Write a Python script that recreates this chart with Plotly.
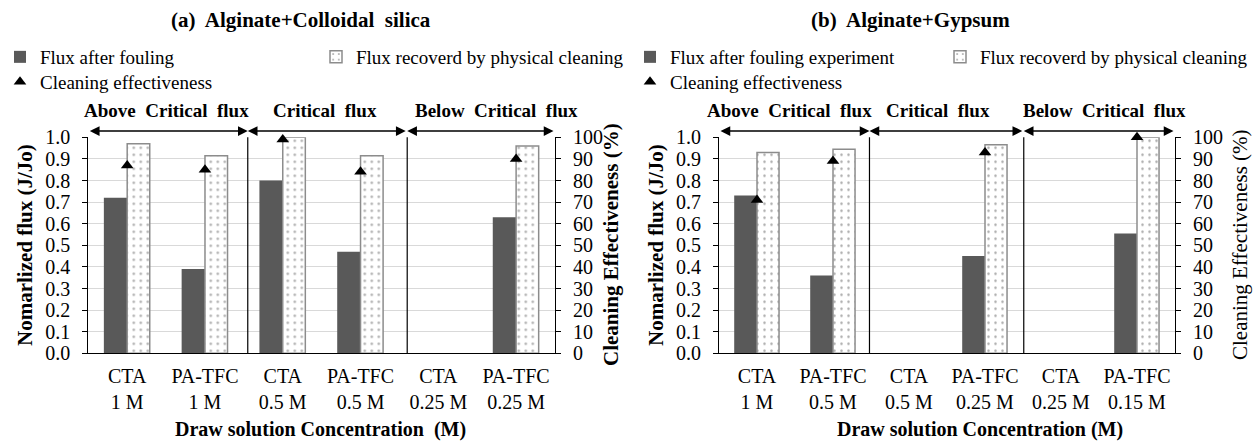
import plotly.graph_objects as go

# ---------------- data ----------------
categories_a = ["CTA<br>1 M", "PA-TFC<br>1 M", "CTA<br>0.5 M", "PA-TFC<br>0.5 M", "CTA<br>0.25 M", "PA-TFC<br>0.25 M"]
flux_fouled_a = [0.72, 0.39, 0.80, 0.47, None, 0.63]
flux_recovered_a = [0.97, 0.915, 1.00, 0.915, None, 0.96]
cleaning_eff_a = [87, 85, 99, 84, None, 90]

categories_b = ["CTA<br>1 M", "PA-TFC<br>0.5 M", "CTA<br>0.5 M", "PA-TFC<br>0.25 M", "CTA<br>0.25 M", "PA-TFC<br>0.15 M"]
flux_fouled_b = [0.73, 0.36, None, 0.45, None, 0.555]
flux_recovered_b = [0.93, 0.945, None, 0.965, None, 1.00]
cleaning_eff_b = [71, 89, None, 93, None, 100]

region_labels = ["Above\u00a0 Critical\u00a0 flux", "Critical\u00a0 flux", "Below\u00a0 Critical\u00a0 flux"]
y_ticks_left = [i / 10 for i in range(11)]
y_ticks_right = list(range(0, 101, 10))

# ---------------- layout helpers ----------------
W, H = 1257, 442
FONT = "Liberation Serif"


def px(p):
    return p / W


def py(p):
    return (H - p) / H


Y_DOM = [py(353.3), py(137.3)]
XA_DOM = [px(88.3), px(555)]
XB_DOM = [px(719), px(1175)]

DARK = "#595959"
fig = go.Figure()


def add_panel(cats, fouled, recovered, eff, xa, ya, ya2, lg, fouled_name):
    fig.add_trace(go.Bar(
        x=cats, y=fouled, name=fouled_name, xaxis=xa, yaxis=ya,
        width=0.3, offset=-0.3, cliponaxis=False,
        marker=dict(color=DARK, line=dict(width=0)), legend=lg[0]))
    fig.add_trace(go.Bar(
        x=cats, y=recovered, name="Flux recoverd by physical cleaning", xaxis=xa, yaxis=ya,
        width=0.29, offset=0.0, cliponaxis=False,
        marker=dict(color="white", line=dict(color="#8c8c8c", width=1.5),
                    pattern=dict(shape=".", fgcolor="#555555", bgcolor="white", size=7, solidity=0.1)),
        legend=lg[1]))
    fig.add_trace(go.Scatter(
        x=cats, y=eff, name="Cleaning effectiveness", xaxis=xa, yaxis=ya2,
        mode="markers", cliponaxis=False,
        marker=dict(symbol="triangle-up", size=11, color="black"), legend=lg[2]))


add_panel(categories_a, flux_fouled_a, flux_recovered_a, cleaning_eff_a,
          "x", "y", "y2", ["legend", "legend2", "legend3"], "Flux after fouling")
add_panel(categories_b, flux_fouled_b, flux_recovered_b, cleaning_eff_b,
          "x2", "y3", "y4", ["legend4", "legend5", "legend6"], "Flux after fouling experiment")

tickfont = dict(family=FONT, size=20, color="black")


def xax(dom, anchor):
    return dict(domain=dom, anchor=anchor, type="category", range=[-0.5, 5.5],
                showline=True, linecolor="black", linewidth=1, ticks="", showgrid=False,
                tickfont=tickfont, ticklabelstandoff=5, fixedrange=True, automargin=False)


def yax_left(anchor):
    return dict(domain=Y_DOM, anchor=anchor, range=[0, 1], tickvals=y_ticks_left, tickformat=".1f",
                ticks="outside", ticklen=5, tickcolor="black", showline=True, linecolor="black",
                gridcolor="#d9d9d9", gridwidth=1, zeroline=False, tickfont=tickfont,
                ticklabelstandoff=8, automargin=False)


def yax_right(anchor, over):
    return dict(overlaying=over, side="right", anchor=anchor, range=[0, 100], tickvals=y_ticks_right,
                ticks="outside", ticklen=5, tickcolor="black", showline=True, linecolor="black",
                showgrid=False, zeroline=False, tickfont=tickfont, ticklabelstandoff=8,
                automargin=False)


legfont = dict(family=FONT, size=19, color="black")


def leg(xp, yp):
    return dict(x=px(xp), y=py(yp), xanchor="left", yanchor="middle", orientation="h",
                font=legfont, bgcolor="rgba(0,0,0,0)", itemwidth=30, visible=True)


ARROW_PX = 131
sep_a = [1.55, 3.6]
sep_b = [1.48, 3.51]
ARROW_Y_DATA = (353.3 - ARROW_PX) / 216.0
shapes = []
annotations = []


def panel_decor(xref, yref, seps, label_x):
    # each arrow: anchor (head) inside the axis range, tail at the other end
    pairs = [(seps[0], -0.5), (seps[0], seps[1]), (seps[1], 5.5)]
    for s in seps:
        shapes.append(dict(type="line", xref=xref, yref=yref, x0=s, x1=s, y0=0, y1=ARROW_Y_DATA,
                           line=dict(color="black", width=1.2)))
    for i, (head, tail) in enumerate(pairs):
        annotations.append(dict(xref=xref, yref="paper", axref=xref, ayref="pixel",
                                x=head, y=py(ARROW_PX), ax=tail, ay=0, text="",
                                showarrow=True, arrowside="end+start", arrowhead=2,
                                arrowsize=1.3, arrowwidth=1.5, arrowcolor="black",
                                standoff=0, startstandoff=0))
        annotations.append(dict(xref=xref, yref="paper", x=label_x[i], y=py(110), text=region_labels[i],
                                showarrow=False, xanchor="center", yanchor="middle",
                                font=dict(family=FONT, size=19, color="black", weight="bold")))


panel_decor("x", "y", sep_a, [0.51, 2.54, 4.75])
panel_decor("x2", "y3", sep_b, [0.43, 2.38, 4.57])


def text_ann(xp, yp, text, size, bold=True, angle=0):
    annotations.append(dict(xref="paper", yref="paper", x=px(xp), y=py(yp), text=text,
                            showarrow=False, xanchor="center", yanchor="middle", textangle=angle,
                            font=dict(family=FONT, size=size, color="black",
                                      weight="bold" if bold else "normal")))


text_ann(301, 20, "(a)\u00a0 Alginate+Colloidal\u00a0 silica", 21)
text_ann(911, 20, "(b)\u00a0 Alginate+Gypsum", 21)
text_ann(321, 429, "Draw solution Concentration\u00a0 (M)", 20)
text_ann(980, 429, "Draw solution Concentration (M)", 20)
text_ann(25, 245, "Nomarlized flux (J/Jo)", 21, angle=-90)
text_ann(611, 245, "Cleaning Effectiveness (%)", 21, angle=-90)
text_ann(656, 245, "Nomarlized flux (J/Jo)", 21, angle=-90)
text_ann(1240, 245, "Cleaning Effectiveness (%)", 21, bold=False, angle=-90)

fig.update_layout(
    width=W, height=H, margin=dict(l=0, r=0, t=0, b=0, pad=0, autoexpand=False),
    paper_bgcolor="white", plot_bgcolor="white",
    font=dict(family=FONT, color="black"),
    barmode="overlay", showlegend=True,
    xaxis=xax(XA_DOM, "y"), yaxis=yax_left("x"), yaxis2=yax_right("x", "y"),
    xaxis2=xax(XB_DOM, "y3"), yaxis3=yax_left("x2"), yaxis4=yax_right("x2", "y3"),
    legend=leg(0, 57), legend2=leg(316, 57), legend3=leg(0, 82),
    legend4=leg(630, 57), legend5=leg(940, 57), legend6=leg(630, 82),
    shapes=shapes, annotations=annotations,
)

fig.write_html("out.html")
